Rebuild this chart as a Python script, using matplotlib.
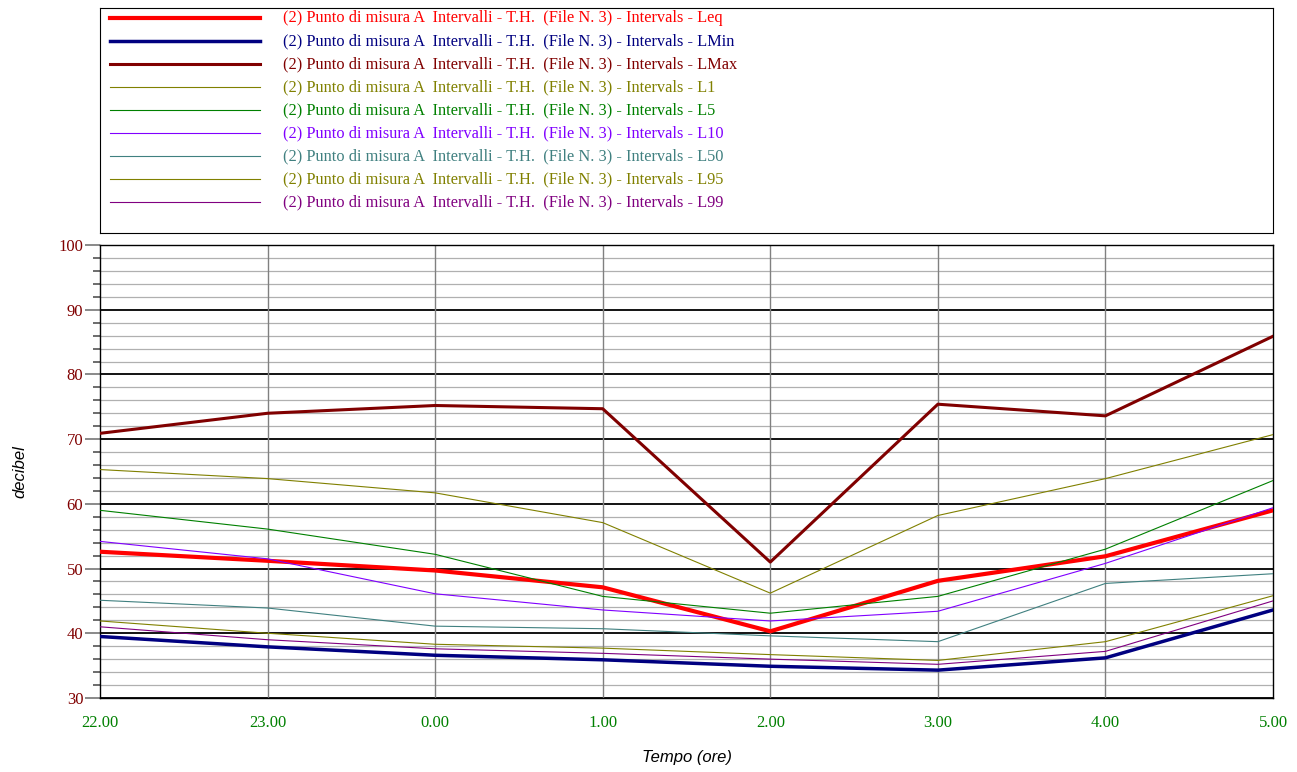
import numpy as np
import matplotlib.pyplot as plt

hours = ['22.00', '23.00', '0.00', '1.00', '2.00', '3.00', '4.00', '5.00']
names = ['Leq', 'LMin', 'LMax', 'L1', 'L5', 'L10', 'L50', 'L95', 'L99']
leq  = [52.6, 51.2, 49.7, 47.1, 40.3, 48.1, 51.9, 59.0]
lmin = [39.5, 37.9, 36.6, 35.9, 34.9, 34.3, 36.2, 43.6]
lmax = [70.9, 74.0, 75.2, 74.7, 51.0, 75.4, 73.6, 85.9]
l1   = [65.3, 63.9, 61.7, 57.1, 46.2, 58.2, 63.9, 70.7]
l5   = [59.0, 56.1, 52.2, 45.7, 43.1, 45.7, 53.0, 63.6]
l10  = [54.2, 51.5, 46.1, 43.6, 41.9, 43.4, 50.8, 59.4]
l50  = [45.1, 43.9, 41.1, 40.7, 39.6, 38.7, 47.7, 49.2]
l95  = [41.9, 40.0, 38.3, 37.7, 36.7, 35.8, 38.7, 45.8]
l99  = [41.0, 39.0, 37.6, 36.9, 36.0, 35.2, 37.2, 45.0]
series = [leq, lmin, lmax, l1, l5, l10, l50, l95, l99]

colors = ['#ff0000', '#000080', '#800000', '#808000', '#008000', '#8000ff',
          '#408080', '#808000', '#800080']
widths = [3, 2.5, 2.2, 0.8, 0.8, 0.8, 0.8, 0.8, 0.8]
serif = 'Liberation Serif'
sans = 'Liberation Sans'

fig = plt.figure(figsize=(12.97, 7.72), dpi=100)
ax = fig.add_axes([0.0771, 0.0959, 0.9044, 0.5867])
x = np.arange(len(hours))
for y, c, w in zip(series, colors, widths):
    ax.plot(x, y, color=c, linewidth=w, zorder=3)

ax.set_xlim(0, len(hours) - 1)
ax.set_ylim(30, 100)
ax.set_xticks(x)
ax.set_xticklabels(hours, color='#008000', fontfamily=serif, fontsize=12)
ax.set_yticks(range(30, 101, 10))
ax.set_yticklabels(range(30, 101, 10), color='#800000', fontfamily=serif, fontsize=12)
ax.set_yticks(np.arange(30, 101, 2), minor=True)
ax.tick_params(axis='x', length=0, pad=12)
ax.tick_params(axis='y', which='major', length=11, width=1.3, color='#808080',
               direction='out', pad=1)
ax.tick_params(axis='y', which='minor', length=5, width=1.3, color='#606060',
               direction='out')
for v in np.arange(30, 101, 2):
    if v % 10:
        ax.axhline(v, color='#b0b0b0', linewidth=0.9, zorder=1)
    else:
        ax.axhline(v, color='black', linewidth=1.3, zorder=1)
for xi in x[1:-1]:
    ax.axvline(xi, color='#808080', linewidth=1, zorder=1)
ax.set_xlabel('Tempo (ore)', fontstyle='italic', fontfamily=sans, fontsize=12, labelpad=14)
ax.set_ylabel('decibel', fontstyle='italic', fontfamily=sans, fontsize=12, labelpad=22)
for s in ax.spines.values():
    s.set_linewidth(1)

lg = fig.add_axes([0.0771, 0.698, 0.9044, 0.2915])
lg.set_xlim(0, 1173)
lg.set_ylim(225, 0)
lg.set_xticks([])
lg.set_yticks([])
for i, (n, c, w) in enumerate(zip(names, colors, widths)):
    yy = 10 + 23 * i
    lg.plot([10, 160], [yy, yy], color=c, linewidth=w)
    lg.text(183, yy, '(2) Punto di misura A  Intervalli - T.H.  (File N. 3) - Intervals - ' + n,
            color=c, fontfamily=serif, fontsize=11.8, va='center')

fig.savefig('out.png', dpi=100)
